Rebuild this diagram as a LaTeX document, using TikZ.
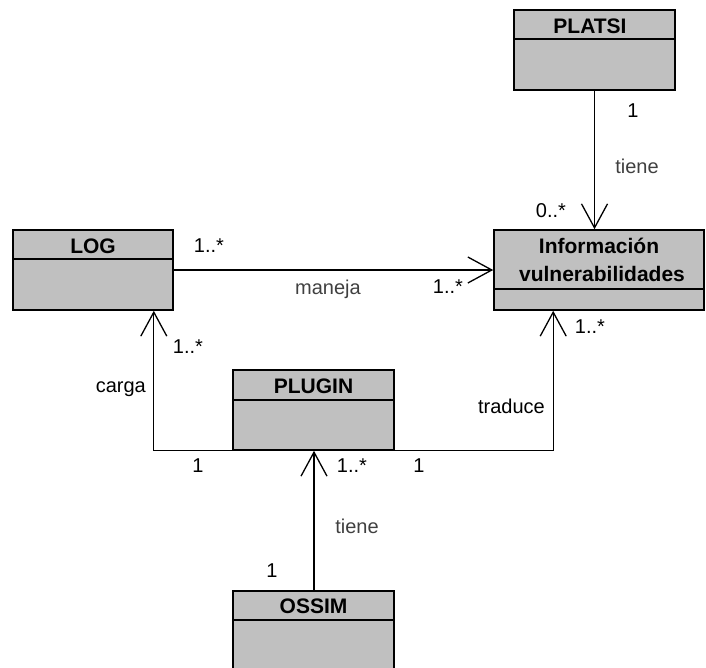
\documentclass[tikz,border=0pt]{standalone}
\usepackage{fontspec}
\setmainfont{Liberation Sans}
\usetikzlibrary{arrows.meta,calc}

\definecolor{classfill}{HTML}{C0C0C0}
\definecolor{softtext}{HTML}{404040}

\tikzset{
  cls/.style={draw=black, line width=1.6pt, fill=classfill, inner sep=0pt},
  divider/.style={draw=black, line width=1.6pt},
  title/.style={font=\fontsize{21}{24}\selectfont\bfseries, anchor=base, inner sep=0pt},
  lbl/.style={font=\fontsize{20}{22}\selectfont, anchor=base, inner sep=0pt},
  verb/.style={lbl, text=softtext},
  assoc/.style={draw=black, line width=1.3pt,
    -{Straight Barb[length=24pt,width=26pt,line width=1.3pt]}},
  plain/.style={draw=black, line width=1.3pt}
}

\begin{document}
\begin{tikzpicture}[x=1pt,y=-1pt]
  \useasboundingbox (0,0) rectangle (706,667);
  \clip (0,0) rectangle (706,667);

  % classes
  \node[cls, minimum width=161pt, minimum height=80pt] (platsi) at (594.5,50) {};
  \node[cls, minimum width=160pt, minimum height=80pt] (log) at (93,270) {};
  \node[cls, minimum width=210pt, minimum height=80pt] (info) at (599,270) {};
  \node[cls, minimum width=161pt, minimum height=80pt] (plugin) at (313.5,410) {};
  \node[cls, minimum width=161pt, minimum height=80pt] (ossim) at (313.5,631) {};

  % compartment dividers
  \draw[divider] ($(platsi.north west)+(0,30)$) -- ($(platsi.north east)+(0,30)$);
  \draw[divider] ($(log.north west)+(0,30)$) -- ($(log.north east)+(0,30)$);
  \draw[divider] ($(info.north west)+(0,60)$) -- ($(info.north east)+(0,60)$);
  \draw[divider] ($(plugin.north west)+(0,31)$) -- ($(plugin.north east)+(0,31)$);
  \draw[divider] ($(ossim.north west)+(0,30)$) -- ($(ossim.north east)+(0,30)$);

  % class names
  \node[title] (tplatsi) at (590,33) {PLATSI};
  \node[title] (tlog) at (93,253) {LOG};
  \node[title] (tinfo1) at (599,253) {Información};
  \node[title] (tinfo2) at (602,281) {vulnerabilidades};
  \node[title] (tplugin) at (313.5,393) {PLUGIN};
  \node[title] (tossim) at (313.5,613) {OSSIM};

  % associations
  \draw[assoc] (platsi.south) -- (info.north -| platsi.south);
  \draw[assoc] (log.east) -- (info.west);
  \draw[assoc] (plugin.south west) -| ($(log.south east)+(-20,0)$);
  \draw[assoc] (plugin.south east) -| ($(info.south west)+(60,0)$);
  \draw[assoc] ($(ossim.north)+(0.5,0)$) -- ($(plugin.south)+(0.5,0)$);

  % multiplicities and roles
  \node[lbl] (m1) at (633,117) {1};
  \node[verb] (v1) at (637,173) {tiene};
  \node[lbl] (m2) at (551,217) {0..*};
  \node[lbl] (m3) at (209,252) {1..*};
  \node[verb] (v2) at (328,294) {maneja};
  \node[lbl] (m4) at (448,293) {1..*};
  \node[lbl] (m5) at (188,353) {1..*};
  \node[lbl, anchor=base east] (v3) at (146,392) {carga};
  \node[lbl, anchor=base east] (v4) at (545,413) {traduce};
  \node[lbl] (m6) at (590,333) {1..*};
  \node[lbl] (m7) at (198,472) {1};
  \node[lbl] (m8) at (352,472) {1..*};
  \node[lbl] (m9) at (419,472) {1};
  \node[verb] (v5) at (357,533) {tiene};
  \node[lbl] (m10) at (272,577) {1};
\end{tikzpicture}
\end{document}
